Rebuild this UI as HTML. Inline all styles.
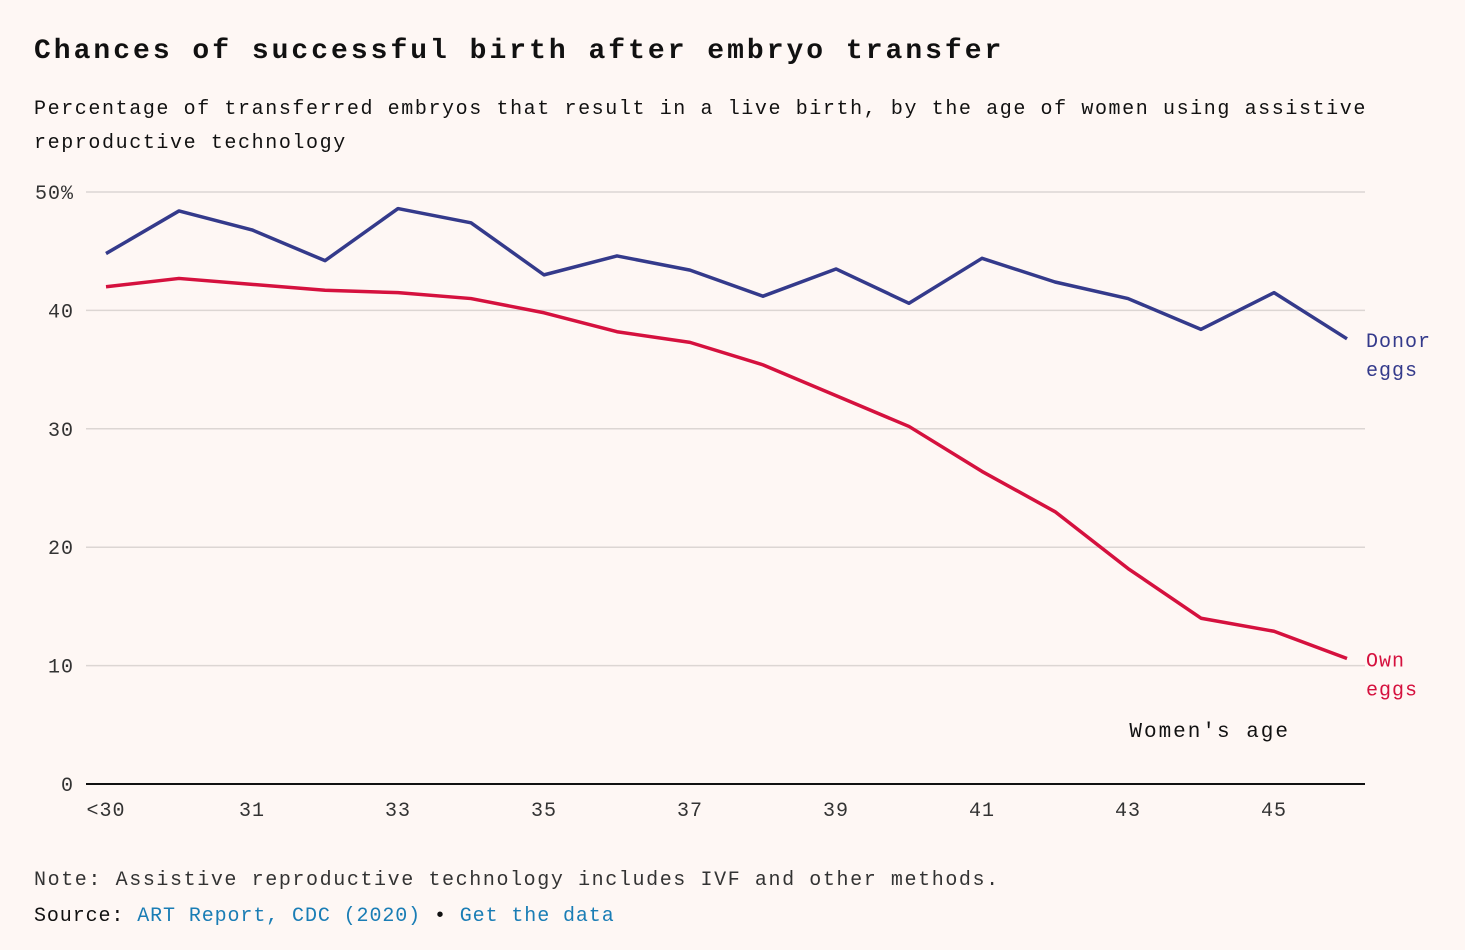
<!DOCTYPE html>
<html><head><meta charset="utf-8"><style>
body{margin:0;background:#fef7f4;width:1465px;height:950px;overflow:hidden;font-family:"Liberation Mono",monospace;color:#111}
svg{position:absolute;left:0;top:0}
.t{position:absolute;left:34px;white-space:nowrap}
a{color:#1a7db5;text-decoration:none}
</style></head><body>
<div class="t" style="top:36px;font-size:28px;font-weight:bold;letter-spacing:3px">Chances of successful birth after embryo transfer</div>
<div class="t" style="top:93px;font-size:20px;letter-spacing:1.6px;line-height:34px">Percentage of transferred embryos that result in a live birth, by the age of women using assistive<br>reproductive technology</div>
<div class="t" style="top:869px;font-size:20px;letter-spacing:1.6px;color:#333">Note: Assistive reproductive technology includes IVF and other methods.</div>
<div class="t" style="top:905px;font-size:20px;letter-spacing:0.9px">Source: <a href="#">ART Report, CDC (2020)</a> • <a href="#">Get the data</a></div>
<svg id="c" width="1465" height="950"></svg>
<script>
const categories=["<30","30","31","32","33","34","35","36","37","38","39","40","41","42","43","44","45","46"];
const donorEggs=[44.8,48.4,46.8,44.2,48.6,47.4,43.0,44.6,43.4,41.2,43.5,40.6,44.4,42.4,41.0,38.4,41.5,37.6];
const ownEggs=[42.0,42.7,42.2,41.7,41.5,41.0,39.8,38.2,37.3,35.4,32.8,30.2,26.4,23.0,18.2,14.0,12.9,10.6];
const yTicks=[0,10,20,30,40,50];
const yTickLabels=["0","10","20","30","40","50%"];
const xTickIdx=[0,2,4,6,8,10,12,14,16];
const svg=document.getElementById('c');const NS='http://www.w3.org/2000/svg';
const x=i=>106+i*(1347-106)/(categories.length-1);
const y=v=>784-v*(784-192)/50;
function mk(t,a,txt){const e=document.createElementNS(NS,t);for(const k in a)e.setAttribute(k,a[k]);if(txt!=null)e.textContent=txt;svg.appendChild(e);return e;}
yTicks.forEach((v,i)=>{
 if(v>0){const g=mk('line',{x1:86,x2:1365,y1:y(v),y2:y(v),stroke:'#dcd6d3','stroke-width':1.5});
 
 }
 const t=mk('text',{x:74,y:y(v)+7,'text-anchor':'end','font-size':20,fill:'#333','font-family':'Liberation Mono, monospace','letter-spacing':1},yTickLabels[i]);
 
 
});
const ax=mk('line',{x1:86,x2:1365,y1:784,y2:784,stroke:'#111','stroke-width':2});


xTickIdx.forEach(i=>{
 const t=mk('text',{x:x(i),y:816,'text-anchor':'middle','font-size':20,fill:'#333','font-family':'Liberation Mono, monospace','letter-spacing':1},categories[i]);
 
 
});
const xt=mk('text',{x:1290,y:737,'text-anchor':'end','font-size':21,fill:'#111','font-family':'Liberation Mono, monospace','letter-spacing':2},"Women's age");


function line(vals,col,name){
 const p=mk('polyline',{points:vals.map((v,i)=>x(i)+','+y(v)).join(' '),fill:'none',stroke:col,'stroke-width':3.5,'stroke-linejoin':'round'});
 
 
}
line(donorEggs,'#343a8b','donor-eggs-line');
line(ownEggs,'#d5113e','own-eggs-line');
function lab(v,col,a,b,name){
 const yy=y(v);
 const t1=mk('text',{x:1366,y:yy+8,'font-size':20,fill:col,'font-family':'Liberation Mono, monospace','letter-spacing':1},a);
 
 
 const t2=mk('text',{x:1366,y:yy+37,'font-size':20,fill:col,'font-family':'Liberation Mono, monospace','letter-spacing':1},b);
 
 
}
lab(donorEggs[donorEggs.length-1],'#343a8b','Donor','eggs','donor-eggs-label');
lab(ownEggs[ownEggs.length-1],'#d5113e','Own','eggs','own-eggs-label');
</script>
</body></html>
